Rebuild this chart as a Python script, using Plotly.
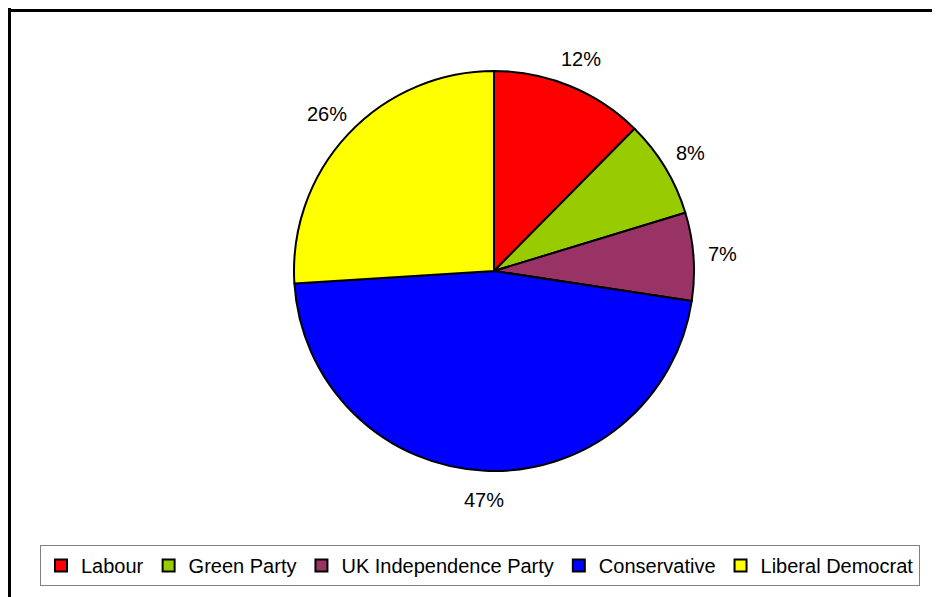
import math
import plotly.graph_objects as go

parties = ["Labour", "Green Party", "UK Independence Party", "Conservative", "Liberal Democrat"]
shares = [12.4, 7.9, 7.1, 46.6, 26.0]
colors = ["#FF0000", "#99CC00", "#993366", "#0000FF", "#FFFF00"]

W, H = 940, 597
# figure-pixel geometry (the page adds an 8px body margin)
cx, cy, r = 486, 263, 200
label_r = 229
FONT = "Arial, Liberation Sans, sans-serif"

fig = go.Figure(go.Pie(
    labels=parties,
    values=shares,
    sort=False,
    direction="clockwise",
    rotation=0,
    marker=dict(colors=colors, line=dict(color="black", width=2)),
    textinfo="none",
    hoverinfo="label+percent",
    domain=dict(x=[(cx - r) / W, (cx + r) / W], y=[1 - (cy + r) / H, 1 - (cy - r) / H]),
))

# percentage labels placed along each slice's bisector, outside the pie
total = sum(shares)
annotations = []
cum = 0.0
for v in shares:
    mid = (cum + v / 2) / total * 2 * math.pi
    cum += v
    px = cx + label_r * math.sin(mid)
    py = cy - label_r * math.cos(mid)
    annotations.append(dict(
        x=px / W, y=1 - py / H, xref="paper", yref="paper",
        text=f"{round(v / total * 100)}%", showarrow=False,
        xanchor="center", yanchor="middle",
        font=dict(family=FONT, size=20, color="black"),
    ))

frame = dict(color="black", width=3)
fig.update_layout(
    width=W, height=H,
    margin=dict(l=0, r=0, t=0, b=0),
    paper_bgcolor="white",
    font=dict(family=FONT, size=20, color="black"),
    showlegend=True,
    legend=dict(
        orientation="h",
        x=472 / W, xanchor="center",
        y=(H - 578) / H, yanchor="bottom",
        bordercolor="#808080", borderwidth=1,
        font=dict(size=20),
        itemwidth=30,
    ),
    annotations=annotations,
    shapes=[
        dict(type="line", xref="paper", yref="paper",
             x0=0, x1=1.1, y0=1 - 2.5 / H, y1=1 - 2.5 / H, line=frame, layer="below"),
        dict(type="line", xref="paper", yref="paper",
             x0=1.5 / W, x1=1.5 / W, y0=-0.1, y1=1, line=frame, layer="below"),
    ],
)

fig.write_html("out.html")
